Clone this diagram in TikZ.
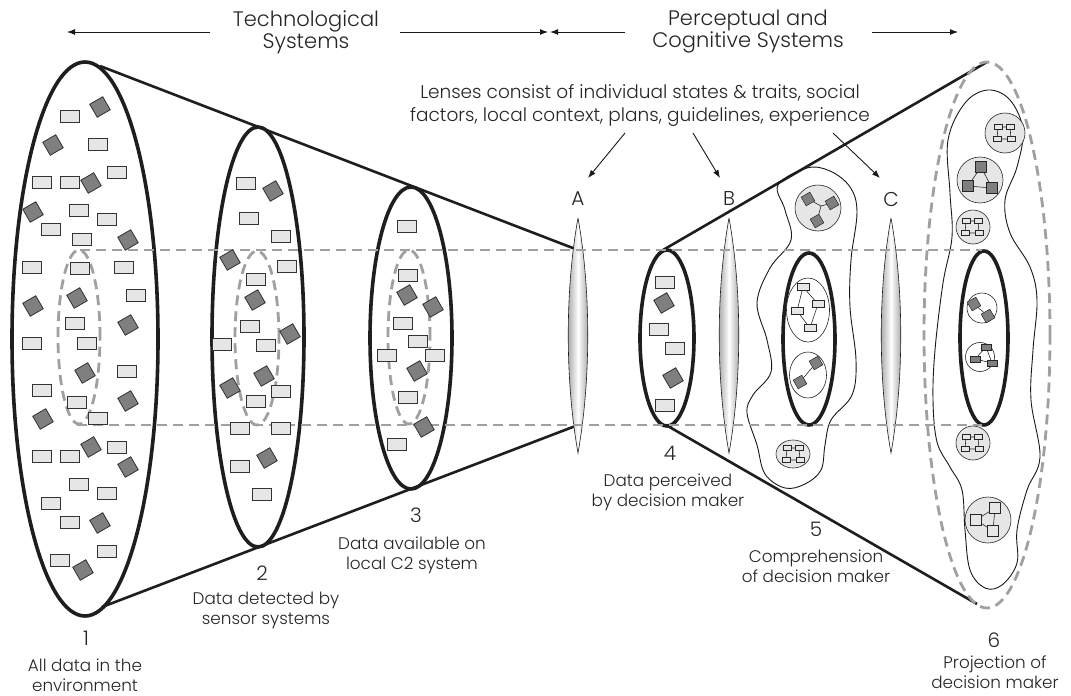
\documentclass[tikz,border=0pt]{standalone}
\usepackage{fontspec}
\IfFontExistsTF{Poppins Light}{\setmainfont{Poppins Light}}{\setmainfont{Poppins}}
\usetikzlibrary{arrows.meta,shapes.geometric}
\definecolor{dgray}{HTML}{A0A0A0}
\definecolor{lfill}{HTML}{E6E6E6}
\definecolor{dfill}{HTML}{7F7F7F}
\definecolor{ink}{HTML}{1E1E1E}
\newcommand{\lensat}[2]{%
  \shadedraw[draw=ink, line width=0.6pt, left color=gray!85, right color=gray!85, middle color=white]
    (#1,218) .. controls ({#1+13},290) and ({#1+13},380) .. (#1,453)
             .. controls ({#1-13},380) and ({#1-13},290) .. (#1,218);
  \node[lbl] (lab#2) at (#1,199) {#2};}
\newcommand{\netfour}[3]{%
  \node[srect] (#1a) at ({#2-7},{#3-6}) {};
  \node[srect] (#1b) at ({#2+5},{#3-6}) {};
  \node[srect] (#1c) at ({#2-8},{#3+6}) {};
  \node[srect] (#1d) at ({#2+6},{#3+6}) {};
  \draw[thinl] (#1a)--(#1b) (#1c)--(#1d) (#1a)--(#1c) (#1b)--(#1d);}
\begin{document}
\begin{tikzpicture}[x=1pt,y=-1pt,
  thick ellipse/.style={draw=ink, line width=3.6pt},
  cone/.style={draw=ink, line width=2.6pt},
  gdash/.style={draw=dgray, line width=2.8pt, dash pattern=on 10pt off 6pt},
  ritem/.style={draw=black!80, fill=lfill, line width=0.8pt, minimum width=19pt, minimum height=12pt, inner sep=0pt},
  ditem/.style={draw=black!80, fill=dfill, line width=0.8pt, minimum width=15pt, minimum height=15pt, inner sep=0pt, rotate=30},
  srect/.style={draw=black!85, fill=lfill, line width=0.5pt, minimum width=8pt, minimum height=5pt, inner sep=0pt},
  sdark/.style={draw=black!85, fill=dfill, line width=0.5pt, minimum width=10pt, minimum height=6pt, inner sep=0pt},
  sdia/.style={draw=black!85, fill=dfill, line width=0.5pt, minimum width=10pt, minimum height=10pt, inner sep=0pt, rotate=30},
  ssq/.style={draw=black!85, fill=dfill, line width=0.5pt, minimum width=11pt, minimum height=11pt, inner sep=0pt},
  wsq/.style={draw=black!85, fill=lfill, line width=0.5pt, minimum width=11pt, minimum height=11pt, inner sep=0pt},
  gcirc/.style={circle, draw=black!85, fill=lfill, line width=0.6pt, inner sep=0pt},
  wcirc/.style={ellipse, draw=black!85, fill=white, line width=0.6pt, inner sep=0pt},
  thinl/.style={draw=black!85, line width=0.6pt},
  blob/.style={draw=black!90, line width=0.9pt},
  hdr/.style={font=\fontsize{21}{22}\selectfont, align=center, text=black!85},
  captxt/.style={font=\fontsize{16.8}{20}\selectfont, align=center, text=black!85},
  lbl/.style={font=\fontsize{20}{22}\selectfont, text=black!85},
  harrow/.style={draw=black!90, line width=1pt, -{Latex[length=8pt,width=6pt]}},
  parrow/.style={draw=black!90, line width=0.9pt, -{Latex[length=8pt,width=6pt]}}
]
\fill[white] (0,0) rectangle (1071,696);
\useasboundingbox (0,0) rectangle (1071,696);

% ---------- headers ----------
\node[hdr] (tech) at (306,32) {Technological\\Systems};
\node[hdr] (perc) at (748,32) {Perceptual and\\Cognitive Systems};
\coordinate (tl) at (67,32);
\coordinate (tls) at (210,32);
\coordinate (trs) at (400,32);
\coordinate (tmid1) at (548,32);
\coordinate (tmid2) at (550,32);
\coordinate (pls) at (625,32);
\coordinate (prs) at (872,32);
\coordinate (pr) at (958,32);
\draw[harrow] (tls) -- (tl);
\draw[harrow] (trs) -- (tmid1);
\draw[harrow] (pls) -- (tmid2);
\draw[harrow] (prs) -- (pr);

% ---------- cones ----------
\draw[cone] (100,66) -- (578,250);
\draw[cone] (102,607) -- (578,425);
\draw[cone] (663,250) -- (987,62);
\draw[cone] (666,425) -- (977,604);

% ---------- thick ellipses ----------
\draw[thick ellipse] (85,339) ellipse [x radius=73pt, y radius=277pt];
\draw[thick ellipse] (258,337) ellipse [x radius=46pt, y radius=210pt];
\draw[thick ellipse] (411,338) ellipse [x radius=41pt, y radius=151pt];
\draw[thick ellipse] (667,338) ellipse [x radius=27pt, y radius=88pt];

% ---------- lenses ----------
\lensat{578}{A}
\lensat{729}{B}
\lensat{891}{C}

% ---------- comprehension blob (5) ----------
\draw[blob] plot[smooth cycle, tension=0.6] coordinates {(807,168) (830,171) (850,187) (857,212) (851,260) (850,307) (856,360) (852,395) (831,420) (825,445) (821,470) (805,484) (785,488) (765,474) (757,445) (747,413) (753,395) (771,372) (767,340) (757,303) (770,268) (791,240) (785,210) (778,185)};
\draw[thick ellipse] (809,339) ellipse [x radius=26pt, y radius=86pt];
\node[gcirc, minimum size=46pt] (c5a) at (818,208) {};
\coordinate (c5aj) at (821,206);
\node[sdia] (c5a1) at (808,199) {};
\node[sdia] (c5a2) at (832,203) {};
\node[sdia] (c5a3) at (817,221) {};
\draw[thinl] (c5a1) -- (c5aj) -- (c5a2) (c5aj) -- (c5a3);
\node[wcirc, minimum width=43pt, minimum height=64pt] (c5b) at (808,310) {};
\node[srect, minimum width=12pt, minimum height=7pt] (c5b1) at (803,287) {};
\node[srect, minimum width=12pt, minimum height=7pt] (c5b2) at (818,304) {};
\node[srect, minimum width=12pt, minimum height=7pt] (c5b3) at (797,311) {};
\node[srect, minimum width=12pt, minimum height=7pt] (c5b4) at (810,328) {};
\draw[thinl] (c5b1) -- (c5b2) -- (c5b4) -- (c5b3) -- (c5b1);
\node[wcirc, minimum width=37pt, minimum height=46pt] (c5c) at (808,375) {};
\node[sdia] (c5c1) at (816,363) {};
\node[sdia] (c5c2) at (800,382) {};
\draw[thinl] (c5c1) -- (c5c2);
\node[gcirc, minimum width=34pt, minimum height=28pt, ellipse] (c5d) at (793,454) {};
\netfour{c5n}{794}{454}

% ---------- projection blob (6) ----------
\draw[blob] plot[smooth cycle, tension=0.6] coordinates {(988,90) (1010,100) (1023,130) (1017,167) (1005,200) (1010,233) (1030,267) (1037,300) (1033,350) (1031,400) (1040,457) (1027,490) (1017,530) (1017,563) (1002,585) (985,588) (970,570) (965,530) (962,490) (950,467) (937,442) (933,400) (935,350) (943,283) (952,237) (950,193) (948,140) (965,103)};
\draw[thick ellipse] (984,338) ellipse [x radius=24pt, y radius=87pt];
\node[gcirc, minimum size=40pt] (c6a) at (1005,133) {};
\netfour{c6an}{1005}{133}
\node[gcirc, minimum size=46pt] (c6b) at (980,180) {};
\node[ssq] (c6b1) at (981,167) {};
\node[ssq] (c6b2) at (968,186) {};
\node[ssq] (c6b3) at (992,188) {};
\draw[thinl] (c6b1) -- (c6b2) -- (c6b3) -- (c6b1);
\node[gcirc, minimum size=34pt] (c6c) at (973,227) {};
\netfour{c6cn}{973}{227}
\node[wcirc, circle, minimum size=30pt] (c6d) at (982,308) {};
\node[sdia] (c6d1) at (974,304) {};
\node[sdia] (c6d2) at (988,316) {};
\draw[thinl] (c6d1) -- (c6d2);
\node[wcirc, circle, minimum size=29pt] (c6e) at (980,357) {};
\node[sdark] (c6e1) at (986,347) {};
\node[sdark] (c6e2) at (975,359) {};
\node[sdark] (c6e3) at (992,363) {};
\draw[thinl] (c6e1) -- (c6e2) -- (c6e3) -- (c6e1);
\node[gcirc, minimum size=34pt] (c6f) at (973,443) {};
\netfour{c6fn}{973}{443}
\node[gcirc, minimum size=46pt] (c6g) at (988,520) {};
\node[wsq] (c6g1) at (976,520) {};
\node[wsq] (c6g2) at (995,508) {};
\node[wsq] (c6g3) at (993,531) {};
\draw[thinl] (c6g1) -- (c6g2) -- (c6g3) -- (c6g1);

% ---------- dashed projection ----------
\draw[gdash] (79,337) ellipse [x radius=21pt, y radius=87pt];
\draw[gdash] (257,338) ellipse [x radius=22pt, y radius=87pt];
\draw[gdash] (409,337) ellipse [x radius=21pt, y radius=87pt];
\draw[gdash] (987,335) ellipse [x radius=63pt, y radius=273pt];
\draw[gdash] (80,250) -- (982,250);
\draw[gdash] (77,425) -- (982,425);

% ---------- data items ----------
\foreach \px/\py [count=\i] in {70/116,98/144,42/182,70/182,117/172,79/210,107/219,51/229,82/239,32/267,80/268,124/267,136/295,75/323,32/343,87/343,127/371,42/390,77/402,98/418,42/456,70/456,117/447,79/484,107/493,51/503,70/522,107/551,60/560}
  \node[ritem] (ra\i) at (\px,\py) {};
\foreach \px/\py [count=\i] in {100/107,53/145,91/183,33/212,128/240,77/298,33/306,128/325,85/373,128/401,43/419,91/447,128/467,100/523,83/570}
  \node[ditem] (da\i) at (\px,\py) {};
\foreach \px/\py [count=\i] in {246/183,249/218,281/236,287/266,256/279,250/326,222/344,266/345,281/391,256/401,240/428,281/428,240/466,262/494}
  \node[ritem] (rb\i) at (\px,\py) {};
\foreach \px/\py [count=\i] in {273/191,230/260,255/300,290/334,264/376,230/388,267/458}
  \node[ditem] (db\i) at (\px,\py) {};
\foreach \px/\py [count=\i] in {407/226,408/275,403/323,418/341,387/355,435/355,408/397,397/444}
  \node[ritem] (rc\i) at (\px,\py) {};
\foreach \px/\py [count=\i] in {407/295,433/307,417/371,424/427}
  \node[ditem] (dc\i) at (\px,\py) {};
\foreach \px/\py [count=\i] in {665/282,659/329,675/348,665/405}
  \node[ritem] (rd\i) at (\px,\py) {};
\foreach \px/\py [count=\i] in {664/303,673/378}
  \node[ditem] (dd\i) at (\px,\py) {};

% ---------- lenses note ----------
\node[font=\fontsize{18.5}{23}\selectfont, align=center, text=black!85] (note) at (640,105)
  {Lenses consist of individual states \& traits, social\\factors, local context, plans, guidelines, experience};
\coordinate (nA) at (625,133);
\coordinate (nB) at (693,133);
\coordinate (nC) at (833,133);
\coordinate (tA) at (588,178);
\coordinate (tB) at (720,178);
\coordinate (tC) at (880,178);
\draw[parrow] (nA) -- (tA);
\draw[parrow] (nB) -- (tB);
\draw[parrow] (nC) -- (tC);

% ---------- captions ----------
\node[lbl] (n1) at (86,638) {1};
\node[captxt] (t1) at (85,675) {All data in the\\environment};
\node[lbl] (n2) at (262,573) {2};
\node[captxt] (t2) at (266,610) {Data detected by\\sensor systems};
\node[lbl] (n3) at (416,515) {3};
\node[captxt] (t3) at (412,555) {Data available on\\local C2 system};
\node[lbl] (n4) at (670,453) {4};
\node[captxt] (t4) at (668,492) {Data perceived\\by decision maker};
\node[lbl] (n5) at (816,529) {5};
\node[captxt] (t5) at (816,566) {Comprehension\\of decision maker};
\node[lbl] (n6) at (994,640) {6};
\node[captxt] (t6) at (995,672) {Projection of\\decision maker};
\end{tikzpicture}
\end{document}
